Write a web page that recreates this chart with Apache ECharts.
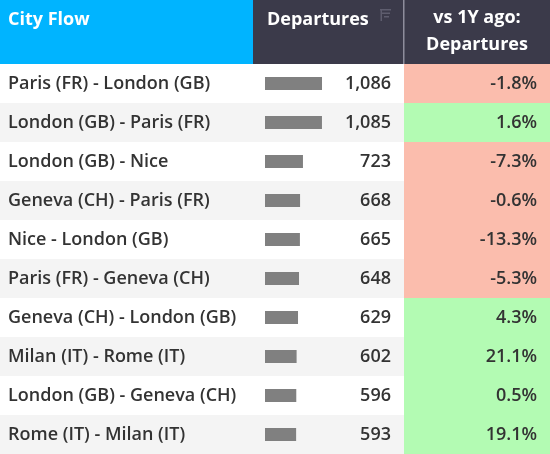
<!DOCTYPE html>
<html><head><meta charset="utf-8">
<script src="https://cdn.jsdelivr.net/npm/echarts@6/dist/echarts.min.js"></script>
<style>html,body{margin:0;padding:0;background:#fff}#c{width:550px;height:454px}</style>
</head><body><div id="c"></div>
<script>
const cities = ['Paris (FR) - London (GB)','London (GB) - Paris (FR)','London (GB) - Nice','Geneva (CH) - Paris (FR)','Nice - London (GB)','Paris (FR) - Geneva (CH)','Geneva (CH) - London (GB)','Milan (IT) - Rome (IT)','London (GB) - Geneva (CH)','Rome (IT) - Milan (IT)'];
const departures = [1086,1085,723,668,665,648,629,602,596,593];
const changePct = [-1.8,1.6,-7.3,-0.6,-13.3,-5.3,4.3,21.1,0.5,19.1];
const headers = ['City Flow','Departures','vs 1Y ago:','Departures'];

const FONT = 'Open Sans';
const FS = 18;
const FW = 600;
const TXT = '#333';
const chart = echarts.init(document.getElementById('c'));
const hidden = {show:false};
chart.setOption({
  animation:false,
  grid:[
    {left:0,right:0,top:64,bottom:0},
    {left:265,width:105,top:64,bottom:0},
    {left:404,right:0,top:64,bottom:0}
  ],
  xAxis:[
    {gridIndex:0,type:'value',min:0,max:1,show:false},
    {gridIndex:1,type:'value',min:0,max:2000,show:false},
    {gridIndex:2,type:'value',min:0,max:1,show:false}
  ],
  yAxis:[
    {gridIndex:0,type:'category',inverse:true,data:cities,
     axisLine:hidden,axisTick:hidden,splitLine:hidden,
     splitArea:{show:true,areaStyle:{color:['#ffffff','#f4f4f4']}},
     axisLabel:{inside:true,margin:8,fontSize:FS,fontWeight:FW,color:TXT,fontFamily:FONT}},
    {gridIndex:1,type:'category',inverse:true,position:'right',
     data:departures.map(v=>v.toLocaleString('en-US')),
     axisLine:hidden,axisTick:hidden,splitLine:hidden,
     axisLabel:{align:'right',margin:21,fontSize:FS,fontWeight:FW,color:TXT,fontFamily:FONT}},
    {gridIndex:2,type:'category',inverse:true,data:cities,show:false}
  ],
  series:[
    {type:'bar',xAxisIndex:1,yAxisIndex:1,data:departures,barWidth:13,
     itemStyle:{color:'#808080'},silent:true},
    {type:'custom',xAxisIndex:2,yAxisIndex:2,
     data:changePct.map((p,i)=>[i,p]),encode:{y:0},
     renderItem:function(params,api){
       const i=api.value(0), p=api.value(1);
       const c=api.coord([0,i]); const s=api.size([1,1]);
       return {type:'group',children:[
         {type:'rect',shape:{x:c[0],y:c[1]-s[1]/2,width:s[0],height:s[1]},
          style:{fill:p<0?'#fbbdad':'#b3fbb3'}},
         {type:'text',x:c[0]+s[0]-13,y:c[1],
          style:{text:p.toFixed(1)+'%',align:'right',verticalAlign:'middle',
                 fontSize:FS,fontWeight:FW,fill:TXT,fontFamily:FONT}}
       ]};
     }}
  ],
  graphic:[
    {type:'rect',left:0,top:0,shape:{width:253,height:64},style:{fill:'#00b4ff'}},
    {type:'rect',left:253,top:0,shape:{width:297,height:64},style:{fill:'#3b3a4a'}},
    {type:'rect',left:403,top:0,shape:{width:1.5,height:64},style:{fill:'#8e8d9c'}},
    {type:'rect',left:253,top:64,shape:{width:2,height:390},style:{fill:'#e2e2e2'}},
    {type:'text',x:8,y:20,style:{text:headers[0],verticalAlign:'middle',fontSize:18,fontWeight:'bold',fill:'#fff',fontFamily:FONT}},
    {type:'text',x:267,y:20,style:{text:headers[1],verticalAlign:'middle',fontSize:18,fontWeight:'bold',fill:'#fff',fontFamily:FONT}},
    {type:'text',x:477,y:18,style:{text:headers[2],align:'center',verticalAlign:'middle',fontSize:18,fontWeight:'bold',fill:'#fff',fontFamily:FONT}},
    {type:'text',x:477,y:45,style:{text:headers[3],align:'center',verticalAlign:'middle',fontSize:18,fontWeight:'bold',fill:'#fff',fontFamily:FONT}},
    {type:'group',x:380,y:9,children:[
      {type:'rect',shape:{x:0,y:0,width:11,height:1.5},style:{fill:'#5e5d6e'}},
      {type:'rect',shape:{x:2,y:3.5,width:8,height:1.5},style:{fill:'#5e5d6e'}},
      {type:'rect',shape:{x:4,y:7,width:5,height:1.5},style:{fill:'#5e5d6e'}},
      {type:'rect',shape:{x:0.5,y:1,width:1.5,height:11},style:{fill:'#5e5d6e'}}
    ]}
  ]
});
</script></body></html>
